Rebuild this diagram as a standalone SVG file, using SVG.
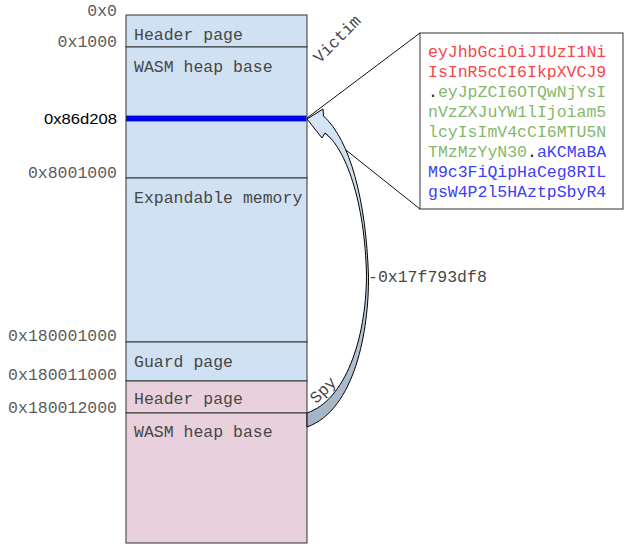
<svg xmlns="http://www.w3.org/2000/svg" width="624" height="546" viewBox="0 0 624 546">
  <style>
    .mono { font-family: "Liberation Mono", "Courier New", monospace; font-size: 16.5px; }
    .addr { fill: #5c5c5c; text-anchor: end; }
    .lbl { fill: #474747; }
    .victim { fill: #cfe1f2; stroke: #333333; stroke-width: 1; }
    .spy { fill: #e8d1dc; stroke: #333333; stroke-width: 1; }
    .red { fill: #f54848; }
    .green { fill: #86b86c; }
    .blue { fill: #4040f5; }
    .dot { fill: #222222; }
    .conn { stroke: #111111; stroke-width: 1; fill: none; }
  </style>
  <defs>
    <linearGradient id="arrowFill" gradientUnits="userSpaceOnUse" x1="0" y1="110" x2="0" y2="428">
      <stop offset="0" stop-color="#d4e6f7"/>
      <stop offset="0.45" stop-color="#c2d4e6"/>
      <stop offset="1" stop-color="#a3b3c3"/>
    </linearGradient>
  </defs>
  <rect width="624" height="546" fill="#ffffff"/>

  <!-- address labels -->
  <g id="addresses" class="mono addr">
    <text x="117" y="15.5">0x0</text>
    <text x="117" y="46.5">0x1000</text>
    <text x="117" y="178">0x8001000</text>
    <text x="117" y="341">0x180001000</text>
    <text x="117" y="380">0x180011000</text>
    <text x="117" y="413">0x180012000</text>
    <text x="117" y="124" style="font-family:'Liberation Sans',Arial,sans-serif;font-size:15.5px;fill:#000" textLength="73" lengthAdjust="spacingAndGlyphs">0x86d208</text>
  </g>

  <!-- victim memory -->
  <g id="victim-header">
    <rect class="victim" x="126" y="15" width="181" height="32"/>
    <text class="mono lbl" x="134" y="39.5">Header page</text>
  </g>
  <g id="victim-heap">
    <rect class="victim" x="126" y="47" width="181" height="131"/>
    <text class="mono lbl" x="134" y="71.5">WASM heap base</text>
  </g>
  <g id="secret-marker">
    <rect x="126.5" y="116" width="179.5" height="5" fill="#0000ff" stroke="#001a80" stroke-width="0.8"/>
  </g>
  <g id="victim-expandable">
    <rect class="victim" x="126" y="178" width="181" height="164"/>
    <text class="mono lbl" x="134" y="203">Expandable memory</text>
  </g>
  <g id="victim-guard">
    <rect class="victim" x="126" y="342" width="181" height="39"/>
    <text class="mono lbl" x="134" y="366.5">Guard page</text>
  </g>

  <!-- spy memory -->
  <g id="spy-header">
    <rect class="spy" x="126" y="381" width="181" height="32"/>
    <text class="mono lbl" x="134" y="403.5">Header page</text>
  </g>
  <g id="spy-heap">
    <rect class="spy" x="126" y="413" width="181" height="130"/>
    <text class="mono lbl" x="134" y="436.5">WASM heap base</text>
  </g>

  <!-- side labels -->
  <g id="victim-label">
    <text class="mono lbl" text-anchor="middle" transform="translate(338,40) rotate(-45)" y="4">Victim</text>
  </g>
  <g id="spy-label">
    <text class="mono lbl" text-anchor="middle" transform="translate(324,391) rotate(-45)" y="4">Spy</text>
  </g>

  <!-- leaked token -->
  <g id="token">
    <rect x="420" y="33" width="203" height="176" fill="#ffffff" stroke="#555555" stroke-width="1.2"/>
    <text class="mono" x="428" y="57"><tspan class="red">eyJhbGciOiJIUzI1Ni</tspan></text>
    <text class="mono" x="428" y="77"><tspan class="red">IsInR5cCI6IkpXVCJ9</tspan></text>
    <text class="mono" x="428" y="97"><tspan class="dot">.</tspan><tspan class="green">eyJpZCI6OTQwNjYsI</tspan></text>
    <text class="mono" x="428" y="117"><tspan class="green">nVzZXJuYW1lIjoiam5</tspan></text>
    <text class="mono" x="428" y="137"><tspan class="green">lcyIsImV4cCI6MTU5N</tspan></text>
    <text class="mono" x="428" y="157"><tspan class="green">TMzMzYyN30</tspan><tspan class="dot">.</tspan><tspan class="blue">aKCMaBA</tspan></text>
    <text class="mono" x="428" y="177"><tspan class="blue">M9c3FiQipHaCeg8RIL</tspan></text>
    <text class="mono" x="428" y="197"><tspan class="blue">gsW4P2l5HAztpSbyR4</tspan></text>
  </g>

  <!-- connectors -->
  <g id="connectors">
    <line class="conn" x1="307" y1="118" x2="420" y2="33"/>
    <line class="conn" x1="307" y1="119" x2="420" y2="209"/>
    <path d="M307,119 L323,109 L323.5,116 C350,140 366,200 368.5,276 C369,330 355,410 307,427 L307,413 C345,400 366,340 366.5,276 C365,200 345,148 325,133 L322,138 Z" fill="url(#arrowFill)" stroke="#000000" stroke-width="1" stroke-linejoin="miter"/>
    <text class="mono lbl" x="368" y="281.5">-0x17f793df8</text>
  </g>
</svg>
